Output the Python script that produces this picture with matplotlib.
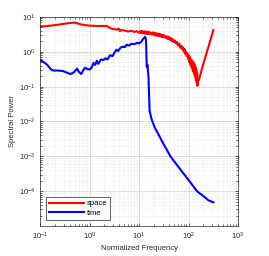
import numpy as np
import matplotlib
matplotlib.use("Agg")
import matplotlib.pyplot as plt
from matplotlib.ticker import LogLocator, NullFormatter

plt.rcParams['font.family'] = ['Liberation Sans', 'DejaVu Sans']

space_f_low = [0.1, 0.2, 0.3, 0.49, 0.7, 1.0, 1.5, 2.2, 2.8, 3.5, 3.9, 4.1, 4.4, 5.0, 6.0,
               7.0, 8.0, 9.0]
space_p_low = [5.2, 5.8, 6.3, 6.9, 6.0, 5.6, 5.5, 5.5, 4.6, 4.3, 4.6, 3.9, 4.2, 4.1, 3.8,
               4.0, 3.7, 3.9]

# noisy middle part (zigzag = noise band)
space_f_mid = [10, 10.5, 11, 11.5, 12, 12.5, 13, 13.5, 14, 14.5, 15, 15.5, 16,
               17, 18, 19, 20, 21, 22, 23, 24, 25, 26, 27, 28, 29, 30,
               32, 34, 36, 38, 40, 42, 44, 46, 48, 50,
               53, 56, 59, 62, 65, 68, 71, 74, 77, 80, 83, 86, 89, 92, 95, 98, 101,
               104, 107, 110, 113, 116, 119, 122, 125, 128, 131, 134, 137, 140, 143,
               146, 149, 152, 155]
space_p_mid = [3.5, 3.9, 3.4, 4.0, 3.4, 3.8, 3.3, 3.9,
               3.3, 3.7, 3.2, 3.8, 3.2, 3.6, 3.1, 3.6,
               3.0, 3.5, 2.9, 3.4, 2.8, 3.3, 2.8, 3.2,
               2.7, 3.1, 2.6, 3.0, 2.5, 2.8, 2.3, 2.7,
               2.2, 2.5, 2.0, 2.3, 1.9, 2.1, 1.7, 1.9,
               1.5, 1.7, 1.3, 1.5, 1.2, 1.35, 1.0, 1.2,
               0.85, 1.0, 0.75, 0.9, 0.62, 0.8, 0.5, 0.7,
               0.42, 0.6, 0.35, 0.55, 0.28, 0.5, 0.24, 0.45,
               0.2, 0.38, 0.16, 0.32, 0.13, 0.25, 0.105, 0.18]

space_f_high = [160, 170, 180, 195, 215, 240, 270, 300, 316]
space_p_high = [0.15, 0.2, 0.27, 0.4, 0.65, 1.1, 1.9, 3.2, 4.2]

# time spectrum (blue)
time_f = [0.1, 0.12, 0.14, 0.16, 0.18, 0.22, 0.29, 0.35, 0.41, 0.47, 0.53, 0.56, 0.6,
          0.68, 0.75, 0.82, 0.9, 1.0, 1.1, 1.2, 1.3, 1.4, 1.5, 1.7, 1.9, 2.1, 2.3, 2.6,
          2.9, 3.2, 3.5, 3.8, 4.2, 4.7, 5.2, 5.6, 6.3, 7.0, 8.0, 9.2, 10, 11, 12, 13.2,
          13.8, 14.3, 14.8, 15.5, 16.3, 17.5, 19.1, 21, 30, 43, 70, 100, 148, 200, 250, 316]
time_p = [0.58, 0.5, 0.42, 0.33, 0.29, 0.29, 0.28, 0.25, 0.23, 0.25, 0.30, 0.33, 0.27,
          0.23, 0.30, 0.35, 0.32, 0.31, 0.35, 0.48, 0.42, 0.55, 0.45, 0.6, 0.58, 0.65, 0.6,
          0.8, 0.75, 0.95, 1.15, 1.05, 1.3, 1.4, 1.35, 1.6, 1.5, 1.7, 1.65, 1.8, 1.75, 1.9,
          2.3, 2.7, 2.2, 0.37, 0.42, 0.19, 0.021, 0.013, 0.009, 0.0065, 0.0025, 0.001,
          0.0004, 0.00021, 0.0001, 0.000072, 0.000055, 0.000048]

space_f = np.concatenate([space_f_low, space_f_mid, space_f_high])
space_p = np.concatenate([space_p_low, space_p_mid, space_p_high])

fig = plt.figure(figsize=(2.69, 2.56), dpi=100)
ax = fig.add_axes([0.149, 0.117, 0.736, 0.817])

ax.loglog(space_f, space_p, color='red', lw=1.5, label='space')
ax.loglog(time_f, time_p, color='blue', lw=1.5, label='time')

ax.set_xlim(1e-1, 1e3)
ax.set_ylim(1e-5, 1e1)
ax.xaxis.set_major_locator(LogLocator(base=10, numticks=10))
ax.yaxis.set_major_locator(LogLocator(base=10, numticks=10))
ax.yaxis.set_minor_formatter(NullFormatter())
ax.xaxis.set_minor_formatter(NullFormatter())
ax.set_yticks([1e-4, 1e-3, 1e-2, 1e-1, 1e0, 1e1])

ax.grid(True, which='major', color='#d0d0d0', lw=0.5)
ax.grid(True, which='minor', color='#d8d8d8', lw=0.4, ls=':')
ax.tick_params(which='both', direction='in', top=True, right=True,
               labelsize=5.5, colors='#262626', width=0.5)
ax.tick_params(which='major', length=2.5)
ax.tick_params(which='minor', length=1.5)
for s in ax.spines.values():
    s.set_color('#262626')
    s.set_linewidth(0.5)

ax.set_xlabel('Normalized Frequency', fontsize=5.5, color='#262626', labelpad=2)
ax.set_ylabel('Spectral Power', fontsize=5.5, color='#262626', labelpad=2)

leg = ax.legend(loc='lower left', fontsize=5.5, handlelength=4.5, fancybox=False,
                edgecolor='#262626', borderaxespad=0.8, labelspacing=0.3,
                handletextpad=0.4, borderpad=0.4, framealpha=1)
leg.get_frame().set_linewidth(0.5)

fig.savefig('out.png', dpi=100, facecolor='white')
